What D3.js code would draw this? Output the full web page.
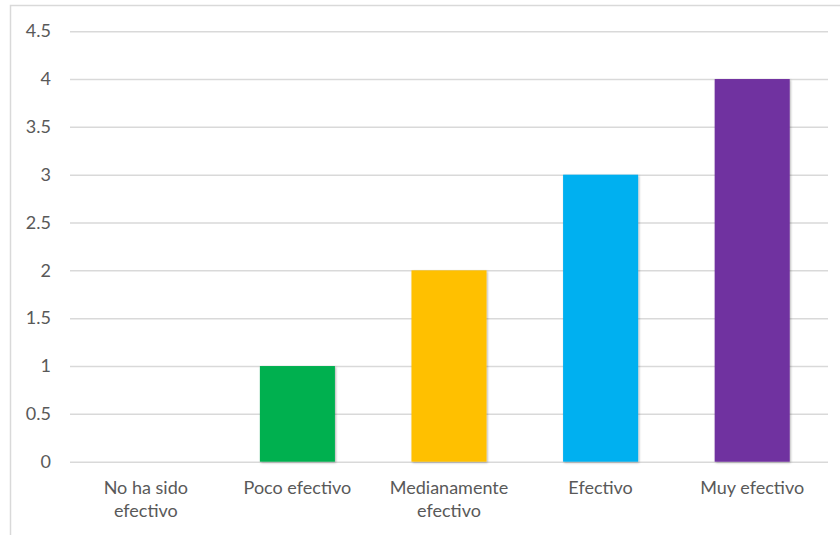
<!DOCTYPE html>
<html>
<head>
<meta charset="utf-8">
<script src="https://cdn.jsdelivr.net/npm/d3@7"></script>
<style>
  html, body { margin: 0; padding: 0; background: #fff; }
  svg { display: block; }
  text { font-family: Lato, "Open Sans", sans-serif; fill: #595959; }
</style>
</head>
<body>
<svg id="chart" width="840" height="535"></svg>
<script>
// Ratings of perceived effectiveness
const categories = ["No ha sido efectivo", "Poco efectivo", "Medianamente efectivo", "Efectivo", "Muy efectivo"];
const values = [0, 1, 2, 3, 4];
const barColors = ["#A5A5A5", "#00B050", "#FFC000", "#00B0F0", "#7030A0"];
const yTicks = [0, 0.5, 1, 1.5, 2, 2.5, 3, 3.5, 4, 4.5];

const svg = d3.select("#chart");
const W = 840, H = 535;

// Chart frame
svg.append("rect")
  .attr("x", 10.5).attr("y", 5.5)
  .attr("width", W).attr("height", H)
  .attr("fill", "#fff")
  .attr("stroke", "#d9d9d9").attr("stroke-width", 1.5);

const defs = svg.append("defs");
const shadow = defs.append("filter").attr("id", "barShadow")
  .attr("x", "-10%").attr("y", "-10%").attr("width", "130%").attr("height", "130%");
shadow.append("feDropShadow")
  .attr("dx", 1).attr("dy", 1).attr("stdDeviation", 1.2)
  .attr("flood-color", "#000").attr("flood-opacity", 0.3);

const plot = { left: 70, right: 828, top: 31.2, bottom: 461.7 };

const x = d3.scaleBand().domain(categories)
  .range([plot.left, plot.right])
  .paddingInner(0.505).paddingOuter(0.2525);

const y = d3.scaleLinear().domain([0, 4.5]).range([plot.bottom, plot.top]);

// Horizontal gridlines
const yAxis = d3.axisLeft(y).tickValues(yTicks)
  .tickSize(-(plot.right - plot.left))
  .tickPadding(19)
  .tickFormat(d => String(d));

const gy = svg.append("g")
  .attr("transform", `translate(${plot.left},0)`)
  .call(yAxis);
gy.select(".domain").remove();
gy.selectAll(".tick line").attr("stroke", "#d9d9d9").attr("stroke-width", 1.5);
gy.selectAll(".tick text")
  .style("font-size", "18px")
  .attr("fill", "#595959");

// Bars
svg.append("g").selectAll("rect")
  .data(categories.map((c, i) => ({ c, v: values[i], color: barColors[i] })))
  .join("rect")
  .filter(d => d.v > 0)
  .attr("x", d => x(d.c))
  .attr("y", d => y(d.v))
  .attr("width", x.bandwidth())
  .attr("height", d => y(0) - y(d.v))
  .attr("fill", d => d.color)
  .attr("filter", "url(#barShadow)");

// Category labels, wrapped to fit the band
const xAxis = d3.axisBottom(x).tickSize(0).tickPadding(0);
const gx = svg.append("g")
  .attr("transform", `translate(0,${plot.bottom})`)
  .call(xAxis);
gx.select(".domain").remove();
gx.selectAll(".tick text")
  .style("font-size", "18px")
  .attr("fill", "#595959")
  .each(function(d) {
    const t = d3.select(this);
    const words = d.split(" ");
    const maxW = 135;
    t.text(null).attr("y", 0).attr("dy", null);
    let lines = [], cur = [];
    const probe = t.append("tspan");
    words.forEach(w => {
      const test = cur.concat([w]).join(" ");
      probe.text(test);
      if (probe.node().getComputedTextLength() > maxW && cur.length) {
        lines.push(cur.join(" "));
        cur = [w];
      } else {
        cur.push(w);
      }
    });
    lines.push(cur.join(" "));
    probe.remove();
    lines.forEach((ln, i) => {
      t.append("tspan").attr("x", 0).attr("y", 32.5 + i * 23).text(ln);
    });
  });
</script>
</body>
</html>
